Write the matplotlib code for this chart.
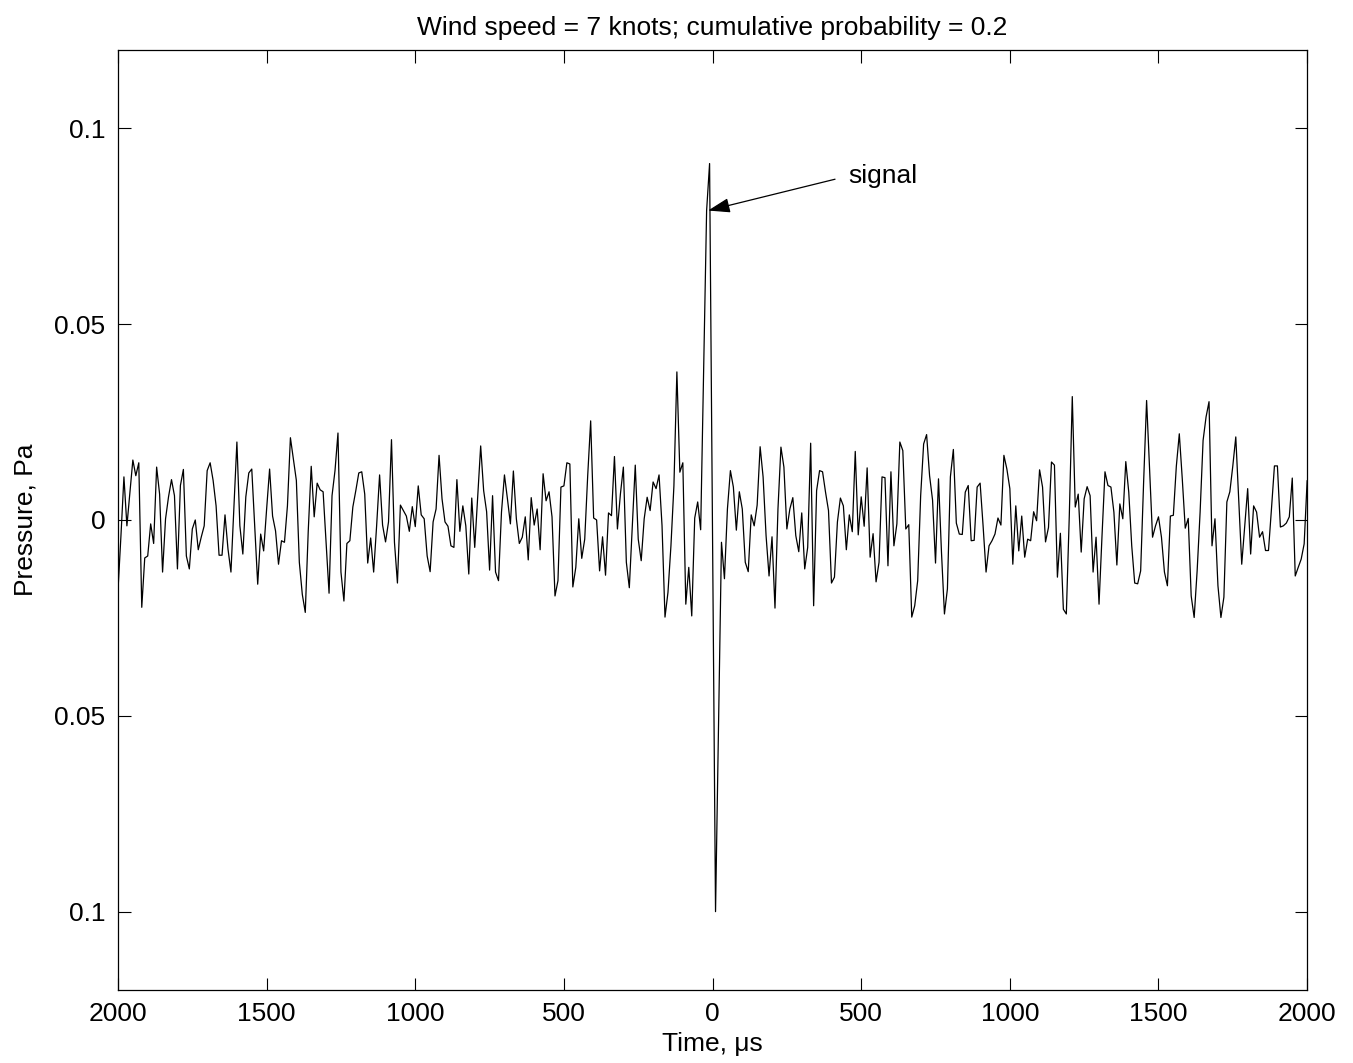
import numpy as np
import matplotlib
matplotlib.use("Agg")
import matplotlib.pyplot as plt

plt.rcParams['font.family'] = ['Liberation Sans', 'DejaVu Sans']

# sample times, 10 us apart, -2000 .. 2000
time_us = np.arange(-2000, 2001, 10)

# pressure (Pa), in order
seg_a = [-0.018, -0.004, 0.011, -0.0015, 0.007, 0.0153, 0.0113, 0.0146, -0.0223, -0.0097,
         -0.0092, -0.001, -0.006, 0.0135, 0.0066, -0.0133, 0.0003, 0.0059, 0.0103, 0.0062,
         -0.0125, 0.0088, 0.0129, -0.0092, -0.0125, -0.0023, 0.0, -0.0076, -0.0044, -0.0015,
         0.0126, 0.0146, 0.0101, 0.0036, -0.009, -0.009, 0.0013, -0.0074, -0.0133, 0.0036,
         0.0199]
seg_b = [-0.0015, -0.0087, 0.0059, 0.012, 0.013, -0.0018, -0.0164, -0.0036, -0.0079, 0.0028,
         0.013, 0.001, -0.0028, -0.0113, -0.0053, -0.0057, 0.0036, 0.021, 0.0156, 0.0101,
         -0.0108, -0.019, -0.0236, -0.0028, 0.0137, 0.0008, 0.0094, 0.0077, 0.0072, -0.0057,
         -0.0187, 0.0062, 0.0126, 0.0222, -0.0133, -0.0207, -0.006, -0.0053, 0.0033, 0.0075]
seg_c = [0.012, 0.0123, 0.0066, -0.011, -0.0046, -0.0133, -0.0015, 0.0115, -0.0013, -0.0056,
         -0.0005, 0.0205, -0.0057, -0.0161, 0.0038, 0.0024, 0.001, -0.0029, 0.0034, -0.0017,
         0.0087, 0.0013, 0.0003, -0.0092, -0.0132, -0.0005, 0.0028, 0.0165, 0.0054, -0.0005,
         -0.0016, -0.0066, -0.007, 0.0103, -0.0029, 0.0036, -0.0015, -0.0138, 0.0056, -0.007]
seg_d = [0.006, 0.0189, 0.0075, 0.0021, -0.0128, 0.0062, -0.0133, -0.0155, 0.002, 0.0115,
         0.0054, -0.001, 0.0125, 0.0003, -0.006, -0.0044, 0.0008, -0.0102, 0.0057, -0.0013,
         0.0028, -0.0076, 0.0118, 0.0049, 0.0072, 0.0008, -0.0194, -0.0155, 0.0084, 0.0087,
         0.0146, 0.0143, -0.0171, -0.0121, 0.0003, -0.0098, -0.0049, 0.0113, 0.0253, 0.0005,
         0.0]
seg_e = [-0.013, -0.0043, -0.0141, 0.0018, 0.0011, 0.0162, -0.0023, 0.0066, 0.0135, -0.0108,
         -0.0173, -0.0014, 0.014, -0.0049, -0.0104, 0.0003, 0.0058, 0.0024, 0.0097, 0.008,
         0.0115, -0.0014, -0.0248, -0.0185, -0.0066, 0.0087, 0.0378, 0.0122, 0.0146, -0.0215,
         -0.0121, -0.0245, 0.0005, 0.0046, -0.0025]
spike = [0.038, 0.079, 0.091, -0.005, -0.1, -0.053]
seg_f = [-0.0057, -0.015, 0.0028, 0.0126, 0.0084, -0.0026, 0.0072, 0.0028, -0.0108, -0.0132,
         0.0013, -0.0015, 0.0038, 0.0187, 0.011, -0.004, -0.0143, -0.0043, -0.0225, 0.0028,
         0.0186, 0.0135, -0.0023, 0.0028, 0.0057, -0.004, -0.0081, 0.0018, -0.0125, -0.007,
         0.0196, -0.0219, 0.0075, 0.0126, 0.0123, 0.0071, 0.0024, -0.0161, -0.0146]
seg_g = [-0.0005, 0.0056, 0.0036, -0.0076, 0.0013, -0.003, 0.0175, -0.0038, 0.0059, -0.0016,
         0.0133, -0.0095, -0.0035, -0.0158, -0.0108, 0.011, 0.0108, -0.0117, 0.0123, -0.0066,
         -0.001, 0.0199, 0.0177, -0.0023, -0.0012, -0.0248, -0.0219, -0.0155, 0.0062, 0.0194,
         0.0218, 0.0113, 0.0051, -0.011, 0.0105, -0.0082, -0.024, -0.0176, 0.011, 0.018]
seg_h = [-0.0008, -0.0036, -0.0037, 0.0071, 0.0088, -0.0053, -0.0052, 0.0084, 0.0094, -0.0015,
         -0.0133, -0.0066, -0.0053, -0.0036, 0.0005, -0.0013, 0.0165, 0.013, 0.008, -0.0113,
         0.0036, -0.0079, 0.001, -0.0095, -0.0049, -0.0053, 0.0021, -0.0002, 0.0128, 0.0084,
         -0.0056, -0.0019, 0.0148, 0.014, -0.0146, -0.0034, -0.0228, -0.024, 0.0012, 0.0315]
seg_i = [0.0033, 0.0066, -0.0082, 0.0054, 0.0085, 0.0062, -0.0133, -0.0044, -0.0215, -0.0041,
         0.0123, 0.0088, 0.0084, 0.002, -0.0115, 0.0041, 0.0003, 0.0149, 0.0071, -0.0066,
         -0.0161, -0.0163, -0.013, 0.0097, 0.0305, 0.013, -0.0044, -0.0015, 0.0008, -0.0044,
         -0.0133, -0.0168, 0.001, 0.0012, 0.0137, 0.022, 0.0105, -0.0021, 0.0004, -0.0194,
         -0.0249]
seg_j = [-0.013, 0.002, 0.0203, 0.0263, 0.0302, -0.0066, 0.0003, -0.0168, -0.0249, -0.0197,
         0.0046, 0.0072, 0.0138, 0.0212, 0.0049, -0.0113, -0.0018, 0.008, -0.0087, 0.0036,
         0.002, -0.0044, -0.003, -0.0078, -0.0078, 0.0028, 0.0138, 0.0138, -0.0018, -0.0015,
         -0.0008, 0.0008, 0.0107, -0.0143, -0.0121, -0.01, -0.0061, 0.01]

pressure = np.array(seg_a + seg_b + seg_c + seg_d + seg_e + spike +
                    seg_f + seg_g + seg_h + seg_i + seg_j)

xticks = [-2000, -1500, -1000, -500, 0, 500, 1000, 1500, 2000]
xtick_labels = ['2000', '1500', '1000', '500', '0', '500', '1000', '1500', '2000']
yticks = [-0.1, -0.05, 0, 0.05, 0.1]
ytick_labels = ['0.1', '0.05', '0', '0.05', '0.1']

fs = 19

fig = plt.figure(figsize=(13.53, 10.63), dpi=100)
ax = fig.add_axes([0.0872, 0.0687, 0.8789, 0.8843])

ax.plot(time_us, pressure, color='black', lw=0.9)

ax.set_xlim(-2000, 2000)
ax.set_ylim(-0.12, 0.12)
ax.set_xticks(xticks)
ax.set_xticklabels(xtick_labels)
ax.set_yticks(yticks)
ax.set_yticklabels(ytick_labels)
ax.tick_params(direction='in', length=9, width=0.8, top=True, right=True,
               labelsize=fs, pad=9)
for s in ax.spines.values():
    s.set_linewidth(0.9)

ax.set_title('Wind speed = 7 knots; cumulative probability = 0.2', fontsize=fs, pad=11)
ax.set_xlabel('Time, \u03bcs', fontsize=fs, labelpad=4)
ax.set_ylabel('Pressure, Pa', fontsize=fs, labelpad=12)

# arrow pointing at the spike
ax.annotate('', xy=(-15, 0.079), xytext=(412, 0.087),
            arrowprops=dict(arrowstyle='-|>,head_length=0.9,head_width=0.3',
                            color='black', lw=0.9, mutation_scale=15,
                            shrinkA=0, shrinkB=0))
ax.text(455, 0.0877, 'signal', fontsize=fs, ha='left', va='center')

fig.savefig('out.png', dpi=100)
